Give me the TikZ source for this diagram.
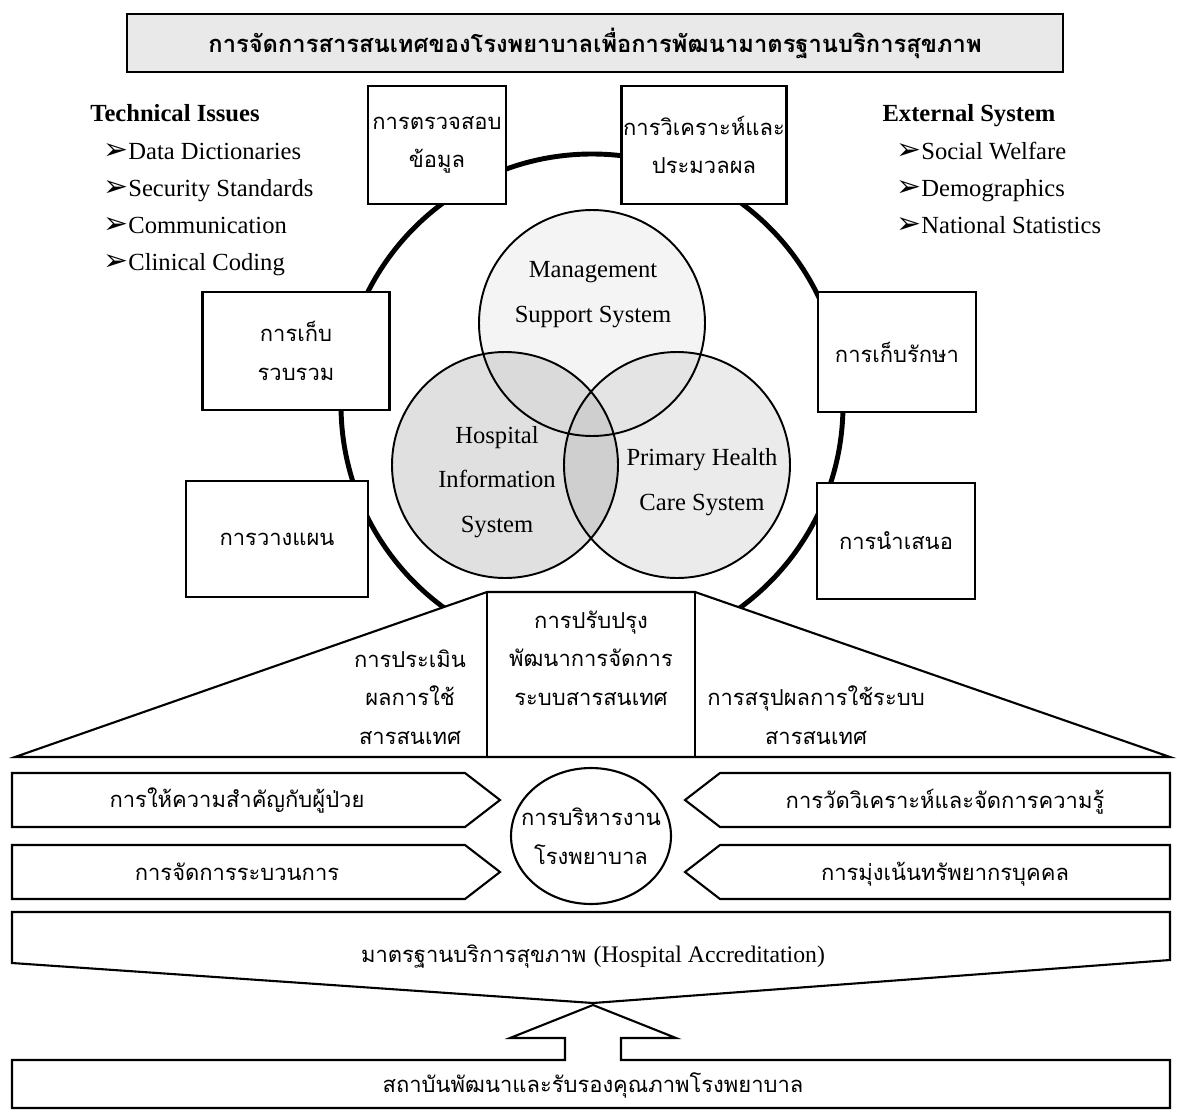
\documentclass[tikz,border=0pt]{standalone}
\usepackage{fontspec}
\setmainfont{Liberation Serif}
\newfontfamily\thaifont[Script=Thai]{Loma}
\newfontfamily\dingfont{DejaVu Sans}
\usetikzlibrary{shapes.geometric}
\newcommand\thaibox{\thaifont\fontsize{12.5}{22}\selectfont}
\newcommand\engsize{\fontsize{14}{21}\selectfont}
\newcommand\vennsize{\fontsize{14}{25.5}\selectfont}
\newcommand\pointer{\raisebox{-0.5pt}{\dingfont\fontsize{17}{17}\selectfont\char"27A2}}

\begin{document}
\begin{tikzpicture}[x=0.02cm,y=-0.02cm]
\tikzstyle{stepbox}=[draw,fill=white,line width=1.3pt,align=center,inner sep=0pt,font=\thaibox];
\tikzstyle{ring}=[line width=2.8pt];
\tikzstyle{venn}=[line width=1.1pt];
\tikzstyle{frame}=[draw,line width=1.2pt,fill=white];
\tikzstyle{lbl}=[align=center,inner sep=0pt,font=\thaibox];
\tikzstyle{eng}=[align=center,inner sep=0pt,font=\vennsize];
\tikzstyle{itm}=[anchor=base west,inner sep=0pt,font=\engsize];
\tikzstyle{head}=[anchor=base,inner sep=0pt,font=\engsize\bfseries];
\useasboundingbox (0,0) rectangle (1177,1112);

% title
\node [draw,fill=gray!17,line width=1.6pt,minimum width=18.72cm,minimum height=1.16cm,
  font=\thaifont\bfseries\fontsize{13.5}{16}\selectfont] (title) at (595,43)
  {การจัดการสารสนเทศของโรงพยาบาลเพื่อการพัฒนามาตรฐานบริการสุขภาพ};

% side lists
\node [head] (tech) at (175,121) {Technical Issues};
\node [itm] (t1) at (103,159) {\pointer Data Dictionaries};
\node [itm] (t2) at (103,196) {\pointer Security Standards};
\node [itm] (t3) at (103,233) {\pointer Communication};
\node [itm] (t4) at (103,270) {\pointer Clinical Coding};

\node [head] (ext) at (969,121) {External System};
\node [itm] (e1) at (896,159) {\pointer Social Welfare};
\node [itm] (e2) at (896,196) {\pointer Demographics};
\node [itm] (e3) at (896,233) {\pointer National Statistics};

% ring
\coordinate (rc) at (592,405);
\draw [ring] (rc) circle (251);

% venn
\coordinate (mc) at (592,323);
\coordinate (hc) at (505,465);
\coordinate (pc) at (677,465);
\fill [gray!9] (mc) circle (113);
\fill [gray!24] (hc) circle (113);
\fill [gray!16] (pc) circle (113);
\begin{scope}
\clip (mc) circle (113);
\fill [gray!29] (hc) circle (113);
\fill [gray!21] (pc) circle (113);
\end{scope}
\begin{scope}
\clip (hc) circle (113);
\fill [gray!38] (pc) circle (113);
\end{scope}
\draw [venn] (mc) circle (113);
\draw [venn] (hc) circle (113);
\draw [venn] (pc) circle (113);
\node [eng] (mss) at (593,295) {Management\\Support System};
\node [eng] (his) at (497,482) {Hospital\\Information\\System};
\node [eng] (phc) at (702,482) {Primary Health\\Care System};

% steps on the ring
\node [stepbox,minimum width=2.76cm,minimum height=2.36cm] (chk) at (437,145) {การตรวจสอบ\\ข้อมูล};
\node [stepbox,minimum width=3.30cm,minimum height=2.36cm] (anl) at (704,145) {การวิเคราะห์และ\\ประมวลผล};
\node [stepbox,minimum width=3.74cm,minimum height=2.36cm] (col) at (296,351) {การเก็บ\\รวบรวม};
\node [stepbox,minimum width=3.16cm,minimum height=2.40cm] (kep) at (897,352) {การเก็บรักษา};
\node [stepbox,minimum width=3.64cm,minimum height=2.32cm] (pln) at (277,539) {การวางแผน};
\node [stepbox,minimum width=3.16cm,minimum height=2.32cm] (prs) at (896,541) {การนำเสนอ};

% roof
\coordinate (r1) at (15,757);
\coordinate (r2) at (487,592);
\coordinate (r3) at (695,592);
\coordinate (r4) at (1170,757);
\draw [frame] (r1) -- (r2) -- (r3) -- (r4) -- cycle;
\draw [line width=1.2pt] (r2) -- (r2 |- r1);
\draw [line width=1.2pt] (r3) -- (r3 |- r1);
\node [lbl] (eva) at (410,697) {การประเมิน\\ผลการใช้\\สารสนเทศ};
\node [lbl] (imp) at (591,658) {การปรับปรุง\\พัฒนาการจัดการ\\ระบบสารสนเทศ};
\node [lbl] (sum) at (816,715) {การสรุปผลการใช้ระบบ\\สารสนเทศ};

% pillars
\draw [frame] (12,773) -- (465,773) -- (500,800) -- (465,827) -- (12,827) -- cycle;
\draw [frame] (12,845) -- (465,845) -- (500,872) -- (465,899) -- (12,899) -- cycle;
\draw [frame] (1170,773) -- (720,773) -- (685,800) -- (720,827) -- (1170,827) -- cycle;
\draw [frame] (1170,845) -- (720,845) -- (685,872) -- (720,899) -- (1170,899) -- cycle;
\node [lbl] (pat) at (237,800) {การให้ความสำคัญกับผู้ป่วย};
\node [lbl] (prc) at (237,872) {การจัดการระบวนการ};
\node [lbl] (knw) at (945,802) {การวัดวิเคราะห์และจัดการความรู้};
\node [lbl] (hrm) at (945,874) {การมุ่งเน้นทรัพยากรบุคคล};
\node [draw,ellipse,line width=1.2pt,minimum width=3.2cm,minimum height=2.72cm] (adm) at (591,836) {};
\node [lbl] (admt) at (adm) {การบริหารงาน\\โรงพยาบาล};

% accreditation
\draw [frame] (12,912) -- (1170,912) -- (1170,960) -- (593,1003) -- (12,963) -- cycle;
\node [lbl] (acc) at (593,957) {มาตรฐานบริการสุขภาพ {\rmfamily\fontsize{13.5}{16}\selectfont(Hospital Accreditation)}};
\draw [frame] (12,1108) -- (12,1060) -- (565,1060) -- (565,1038) -- (510,1038) -- (593,1005)
  -- (676,1038) -- (621,1038) -- (621,1060) -- (1170,1060) -- (1170,1108) -- cycle;
\node [lbl] (ins) at (593,1085) {สถาบันพัฒนาและรับรองคุณภาพโรงพยาบาล};
\end{tikzpicture}
\end{document}
